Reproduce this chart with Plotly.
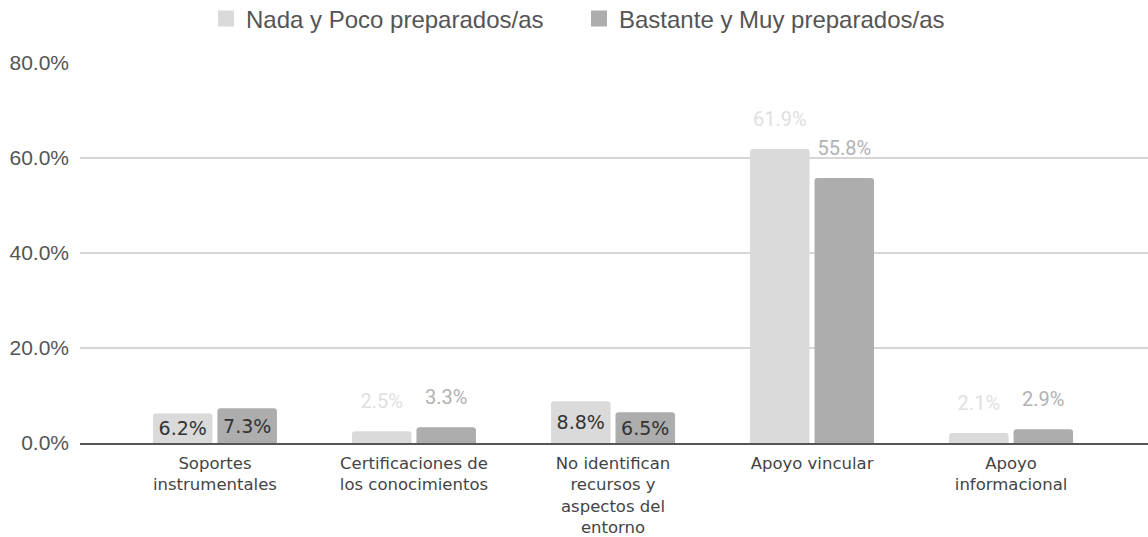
import plotly.graph_objects as go

# ---- data ----
categories = [
    "Soportes<br>instrumentales",
    "Certificaciones de<br>los conocimientos",
    "No identifican<br>recursos y<br>aspectos del<br>entorno",
    "Apoyo vincular",
    "Apoyo<br>informacional",
]
series_names = ["Nada y Poco preparados/as", "Bastante y Muy preparados/as"]
nada_poco = [6.2, 2.5, 8.8, 61.9, 2.1]
bastante_muy = [7.3, 3.3, 6.5, 55.8, 2.9]
y_tick_values = [0, 20, 40, 60, 80]
y_tick_labels = ["0.0%", "20.0%", "40.0%", "60.0%", "80.0%"]

# ---- style ----
label_inside = [True, False, True, False, False]
colors = ["#dadada", "#adadad"]
outside_label_colors = ["#e0e0e0", "#b2b2b2"]
PAD = "<span style='font-size:80px'>\u00a0</span>"


def labels(values):
    out = []
    for v, inside in zip(values, label_inside):
        t = f"{v:.1f}%"
        out.append(t if inside else PAD + t + PAD)
    return out


positions = ["inside" if i else "outside" for i in label_inside]

fig = go.Figure()
for name, vals, col, ocol in zip(series_names, [nada_poco, bastante_muy], colors, outside_label_colors):
    fig.add_trace(go.Bar(
        x=categories, y=vals, name=name, showlegend=False,
        marker=dict(color=col, line=dict(width=0)),
        text=labels(vals), textposition=positions, textangle=0,
        insidetextanchor="middle", constraintext="none", cliponaxis=False,
        insidetextfont=dict(family="DejaVu Sans", size=19, color="#333333"),
        outsidetextfont=dict(family="Roboto", size=20, color=ocol),
        hoverinfo="skip",
    ))
    # legend entry
    fig.add_trace(go.Scatter(
        x=[None], y=[None], mode="markers", name=name,
        marker=dict(symbol="square", size=16, color=col),
        hoverinfo="skip",
    ))

fig.update_layout(
    width=1148, height=537,
    margin=dict(l=80, r=0, t=63, b=94, autoexpand=False),
    paper_bgcolor="white", plot_bgcolor="white",
    barmode="group", bargap=0.352, bargroupgap=0.0775,
    barcornerradius=3,
    showlegend=True,
    legend=dict(
        orientation="h", xref="container", yref="container",
        x=0.5 + 5 / 1148, xanchor="center", y=1 - 19 / 537, yanchor="middle",
        entrywidth=328, entrywidthmode="pixels",
        font=dict(family="Liberation Sans", size=24, color="#555555"),
        itemclick=False, itemdoubleclick=False, traceorder="normal",
    ),
    xaxis=dict(
        type="category", range=[-0.678, 4.688], automargin=False,
        showline=True, linecolor="#555555", linewidth=2,
        showgrid=False, ticks="", ticklabelstandoff=4,
        tickfont=dict(family="DejaVu Sans", size=16.5, color="#444444"),
    ),
    yaxis=dict(
        range=[0, 80], tickvals=y_tick_values, ticktext=y_tick_labels,
        automargin=False,
        showgrid=True, gridcolor="#d6d6d6", gridwidth=1.5,
        zeroline=False, showline=False, ticks="", ticklabelstandoff=10,
        tickfont=dict(family="Liberation Sans", size=21, color="#555555"),
    ),
)

fig.write_html("out.html")
